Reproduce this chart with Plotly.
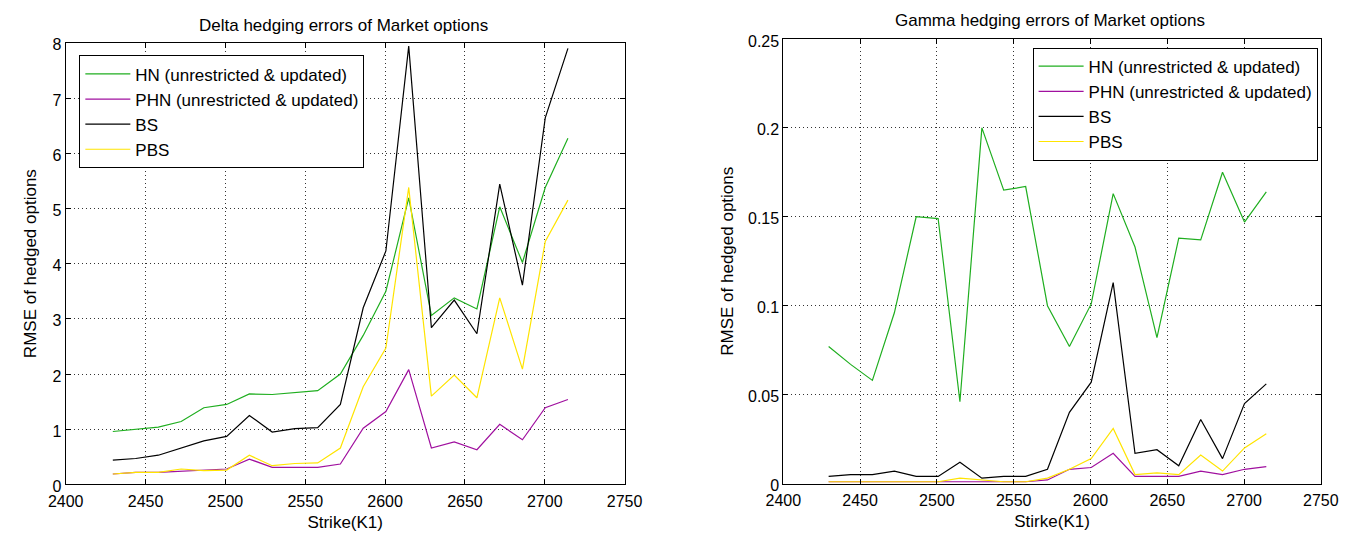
import plotly.graph_objects as go

strikes = [2429.5, 2443.8, 2458.0, 2472.3, 2486.5, 2500.8, 2515.0, 2529.3, 2543.5, 2557.8,
           2572.0, 2586.3, 2600.5, 2614.8, 2629.0, 2643.3, 2657.5, 2671.8, 2686.0, 2700.3, 2714.5]

# Delta hedging errors
delta_hn = [0.96, 1.00, 1.04, 1.14, 1.39, 1.45, 1.64, 1.63, 1.67, 1.70,
            2.00, 2.70, 3.50, 5.19, 3.06, 3.38, 3.18, 5.03, 4.02, 5.38, 6.27]
delta_phn = [0.19, 0.22, 0.22, 0.24, 0.25, 0.28, 0.46, 0.31, 0.31, 0.31,
             0.37, 1.02, 1.32, 2.08, 0.66, 0.77, 0.63, 1.09, 0.81, 1.39, 1.54]
delta_bs = [0.44, 0.47, 0.53, 0.66, 0.79, 0.87, 1.25, 0.95, 1.01, 1.03,
            1.45, 3.20, 4.23, 7.94, 2.84, 3.34, 2.73, 5.44, 3.61, 6.64, 7.90]
delta_pbs = [0.19, 0.22, 0.22, 0.28, 0.25, 0.26, 0.53, 0.34, 0.38, 0.39,
             0.66, 1.77, 2.47, 5.38, 1.60, 1.98, 1.57, 3.38, 2.09, 4.40, 5.15]

# Gamma hedging errors
gamma_hn = [0.077, 0.067, 0.058, 0.096, 0.150, 0.149, 0.046, 0.200, 0.165, 0.167,
            0.100, 0.077, 0.101, 0.163, 0.133, 0.082, 0.138, 0.137, 0.175, 0.147, 0.164]
gamma_phn = [0.001, 0.001, 0.001, 0.001, 0.001, 0.001, 0.001, 0.001, 0.001, 0.001,
             0.002, 0.008, 0.009, 0.017, 0.004, 0.004, 0.004, 0.007, 0.005, 0.008, 0.0095]
gamma_bs = [0.004, 0.005, 0.005, 0.007, 0.004, 0.004, 0.012, 0.003, 0.004, 0.004,
            0.008, 0.040, 0.057, 0.113, 0.017, 0.019, 0.010, 0.036, 0.014, 0.045, 0.056]
gamma_pbs = [0.001, 0.001, 0.001, 0.001, 0.001, 0.001, 0.003, 0.002, 0.001, 0.001,
             0.003, 0.008, 0.014, 0.031, 0.005, 0.006, 0.005, 0.016, 0.007, 0.020, 0.028]

names = ["HN (unrestricted & updated)", "PHN (unrestricted & updated)", "BS", "PBS"]
colors = ["#1fae1f", "#a0109f", "#000000", "#ffe400"]

x_ticks = [2400, 2450, 2500, 2550, 2600, 2650, 2700, 2750]
delta_ticks = [0, 1, 2, 3, 4, 5, 6, 7, 8]
gamma_ticks = [0, 0.05, 0.1, 0.15, 0.2, 0.25]
gamma_ticklabels = ["0", "0.05", "0.1", "0.15", "0.2", "0.25"]

FONT = "Liberation Sans, Arial, sans-serif"

fig = go.Figure()

for i, (name, ys) in enumerate(zip(names, [delta_hn, delta_phn, delta_bs, delta_pbs])):
    fig.add_trace(go.Scatter(x=strikes, y=ys, mode="lines", name=name,
                             line=dict(color=colors[i], width=1.2),
                             xaxis="x", yaxis="y", legend="legend"))
for i, (name, ys) in enumerate(zip(names, [gamma_hn, gamma_phn, gamma_bs, gamma_pbs])):
    fig.add_trace(go.Scatter(x=strikes, y=ys, mode="lines", name=name,
                             line=dict(color=colors[i], width=1.2),
                             xaxis="x2", yaxis="y2", legend="legend2"))

axis_common = dict(showline=True, linecolor="black", linewidth=1, mirror="ticks",
                   ticks="inside", ticklen=5, tickcolor="black",
                   showgrid=True, gridcolor="rgba(0,0,0,0.8)", gridwidth=1,
                   griddash="1px,3px", zeroline=False,
                   tickfont=dict(family=FONT, size=16, color="black"))
xaxis_extra = dict(ticklabelstandoff=2)
yaxis_extra = dict(ticklabelshift=2)

W, H = 1369, 541
legend_common = dict(xanchor="left", yanchor="top",
                     bgcolor="white", bordercolor="black", borderwidth=1,
                     font=dict(family=FONT, size=17), itemwidth=45,
                     entrywidth=245, entrywidthmode="pixels")

fig.update_layout(
    width=W, height=H,
    margin=dict(l=0, r=0, t=0, b=0),
    paper_bgcolor="white", plot_bgcolor="white",
    font=dict(family=FONT, size=17, color="black"),
    xaxis=dict(domain=[49 / W, 623 / W], range=[2400, 2750], tickvals=x_ticks,
               anchor="y",
               title=dict(text="Strike(K1)", standoff=7, font=dict(size=17)),
               **axis_common, **xaxis_extra),
    yaxis=dict(domain=[1 - 494 / H, 1 - 38 / H], range=[0, 8], tickvals=delta_ticks,
               anchor="x",
               title=dict(text="RMSE of hedged options", standoff=11, font=dict(size=17)),
               **axis_common, **yaxis_extra),
    xaxis2=dict(domain=[786 / W, 1338 / W], range=[2400, 2750], tickvals=x_ticks,
                anchor="y2",
                title=dict(text="Stirke(K1)", standoff=7, font=dict(size=17)),
                **axis_common, **xaxis_extra),
    yaxis2=dict(domain=[1 - 493 / H, 1 - 34 / H], range=[0, 0.25], tickvals=gamma_ticks,
                ticktext=gamma_ticklabels, anchor="x2",
                title=dict(text="RMSE of hedged options", standoff=10, font=dict(size=17)),
                **axis_common, **yaxis_extra),
    legend=dict(x=63 / W, y=1 - 51 / H, **legend_common),
    legend2=dict(x=1042 / W, y=1 - 43 / H, **legend_common),
    annotations=[
        dict(text="Delta hedging errors of Market options", x=334 / W, y=1 - 20 / H,
             xref="paper", yref="paper", showarrow=False, xanchor="center", yanchor="middle",
             font=dict(family=FONT, size=17)),
        dict(text="Gamma hedging errors of Market options", x=1060 / W, y=1 - 15 / H,
             xref="paper", yref="paper", showarrow=False, xanchor="center", yanchor="middle",
             font=dict(family=FONT, size=17)),
    ],
)

fig.write_html("out.html")
